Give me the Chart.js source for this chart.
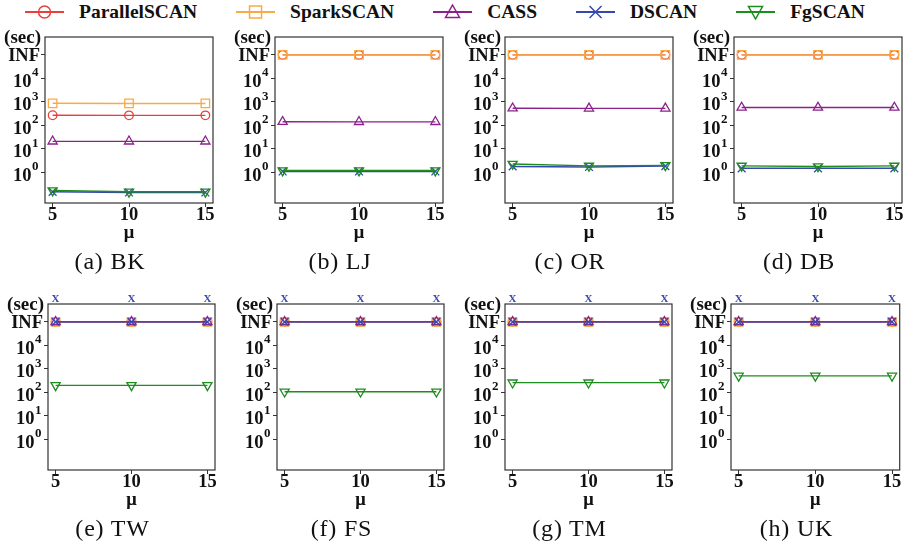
<!DOCTYPE html>
<html>
<head>
<meta charset="utf-8">
<script src="https://cdn.jsdelivr.net/npm/chart.js@4.4.1/dist/chart.umd.min.js"></script>
<style>
  body { margin: 0; background: #fff; }
  #fig { position: relative; width: 905px; height: 555px; overflow: hidden; }
  #fig canvas { position: absolute; }
  .cap { position: absolute; font-family: "Liberation Serif", serif; font-size: 24px; line-height: 24px;
         letter-spacing: 0.8px; white-space: nowrap; transform: translateX(-50%); color: #111; }
  #legend { position: absolute; left: 445px; top: 2px; transform: translateX(-50%); display: flex; align-items: center;
            font-family: "Liberation Serif", serif; font-weight: bold; font-size: 19.5px; line-height: 20px;
            color: #111; white-space: nowrap; }
  #legend .item { display: flex; align-items: center; margin-right: 39px; }
  #legend .item:last-child { margin-right: 0; }
  #legend svg { margin-right: 15px; }
</style>
</head>
<body>
<div id="fig">
  <div id="legend"></div>
</div>
<script>
const INF = 1e5;
const muValues = [5, 10, 15];
const graphNames = ['BK', 'LJ', 'OR', 'DB', 'TW', 'FS', 'TM', 'UK'];
const captionLetters = ['a', 'b', 'c', 'd', 'e', 'f', 'g', 'h'];
const methodNames = ['ParallelSCAN', 'SparkSCAN', 'CASS', 'DSCAN', 'FgSCAN'];
const yTickValues = [1, 10, 100, 1000, 10000, INF];

// running time (sec) per graph, INF = did not finish
const parallelScanTime = [
  [270, 268, 268],
  [INF, INF, INF],
  [INF, INF, INF],
  [INF, INF, INF],
  [INF, INF, INF],
  [INF, INF, INF],
  [INF, INF, INF],
  [INF, INF, INF]
];
const sparkScanTime = [
  [870, 860, 860],
  [INF, INF, INF],
  [INF, INF, INF],
  [INF, INF, INF],
  [INF, INF, INF],
  [INF, INF, INF],
  [INF, INF, INF],
  [INF, INF, INF]
];
const cassTime = [
  [21, 21, 21],
  [143, 142, 142],
  [535, 530, 530],
  [575, 575, 575],
  [INF, INF, INF],
  [INF, INF, INF],
  [INF, INF, INF],
  [INF, INF, INF]
];
const dscanTime = [
  [0.15, 0.14, 0.14],
  [1.1, 1.1, 1.1],
  [1.8, 1.7, 1.85],
  [1.5, 1.5, 1.5],
  [INF, INF, INF],
  [INF, INF, INF],
  [INF, INF, INF],
  [INF, INF, INF]
];
const fgScanTime = [
  [0.17, 0.15, 0.15],
  [1.2, 1.2, 1.2],
  [2.3, 1.9, 2.0],
  [1.9, 1.8, 1.9],
  [200, 200, 200],
  [107, 107, 107],
  [260, 260, 260],
  [505, 505, 505]
];
// DSCAN crashed (marked with an X above the plot)
const dscanCrashed = [false, false, false, false, true, true, true, true];

const allTimes = [parallelScanTime, sparkScanTime, cassTime, dscanTime, fgScanTime];

// look of each method
const colors = ['#e8403a', '#f9aa45', '#8b218b', '#3548b0', '#1e8c1e'];
const pointStyles = ['circle', 'rect', 'triangle', 'crossRot', 'triangle'];
const pointRotations = [0, 0, 0, 0, 180];
const pointRadii = [4.3, 6, 5.3, 5.5, 5.3];

// subplot frames
const plotLefts = [45, 275, 505, 734, 48, 277, 505, 731];
const plotTops = [37, 37, 37, 37, 304, 304, 304, 304];
const plotWidths = [168, 168, 168, 168, 167, 167, 167, 169];
const PLOT_H = 166;
const CANVAS_W = 222, CANVAS_H = 245, PAD_LEFT = 46, PAD_TOP = 32;

const SERIF = '"Liberation Serif", "Times New Roman", serif';
const fig = document.getElementById('fig');

const decor = {
  id: 'decor',
  afterDraw(chart, args, opts) {
    const { ctx, chartArea: a, scales: { x, y } } = chart;
    ctx.save();
    ctx.strokeStyle = '#333';
    ctx.lineWidth = 1.2;
    ctx.strokeRect(a.left, a.top, a.right - a.left, a.bottom - a.top);

    ctx.fillStyle = '#111';
    ctx.textAlign = 'right';
    ctx.textBaseline = 'alphabetic';
    y.ticks.forEach(t => {
      const py = y.getPixelForValue(t.value);
      if (t.value === INF) {
        ctx.font = 'bold 18.5px ' + SERIF;
        ctx.fillText('INF', a.left - 5, py + 6.5);
      } else {
        const exp = String(Math.round(Math.log10(t.value)));
        ctx.font = 'bold 13px ' + SERIF;
        const w = ctx.measureText(exp).width;
        ctx.fillText(exp, a.left - 6.5, py - 2);
        ctx.font = 'bold 18.5px ' + SERIF;
        ctx.fillText('10', a.left - 7 - w, py + 8.5);
      }
    });
    ctx.font = 'bold 19px ' + SERIF;
    ctx.fillText('(sec)', a.left - 4, a.top + 6);

    ctx.font = 'bold 18.5px ' + SERIF;
    ctx.textAlign = 'center';
    x.ticks.forEach(t => {
      ctx.fillText(String(t.value), x.getPixelForValue(t.value), a.bottom + 17);
    });
    ctx.fillText('\u03bc', (a.left + a.right) / 2, a.bottom + 35);

    if (opts.crashed) {
      ctx.fillStyle = colors[3];
      ctx.font = 'bold 11px ' + SERIF;
      muValues.forEach(m => ctx.fillText('X', x.getPixelForValue(m), a.top - 2.5));
    }
    ctx.restore();
  }
};

graphNames.forEach((g, p) => {
  const canvas = document.createElement('canvas');
  canvas.width = CANVAS_W;
  canvas.height = CANVAS_H;
  canvas.style.left = (plotLefts[p] - PAD_LEFT) + 'px';
  canvas.style.top = (plotTops[p] - PAD_TOP) + 'px';
  fig.appendChild(canvas);

  const datasets = methodNames.map((name, i) => ({
    label: name,
    data: allTimes[i][p].map((v, k) => ({ x: muValues[k], y: v })),
    borderColor: colors[i],
    backgroundColor: 'transparent',
    borderWidth: 1.4,
    pointStyle: pointStyles[i],
    pointRotation: pointRotations[i],
    pointRadius: pointRadii[i],
    pointBorderWidth: 1.3,
    pointBackgroundColor: 'transparent',
    pointBorderColor: colors[i],
    tension: 0,
    order: methodNames.length - i
  }));

  new Chart(canvas, {
    type: 'line',
    data: { datasets },
    plugins: [decor],
    options: {
      responsive: false,
      animation: false,
      devicePixelRatio: 1,
      layout: { padding: { left: 0, top: PAD_TOP, bottom: 0, right: CANVAS_W - PAD_LEFT - plotWidths[p] } },
      plugins: {
        legend: { display: false },
        tooltip: { enabled: false },
        decor: { crashed: dscanCrashed[p] }
      },
      scales: {
        x: {
          type: 'linear',
          min: 4.5,
          max: 15.5,
          afterBuildTicks: s => { s.ticks = muValues.map(v => ({ value: v })); },
          afterFit: s => { s.height = CANVAS_H - PAD_TOP - PLOT_H; },
          ticks: { display: false },
          grid: { display: true, drawOnChartArea: false, drawTicks: true, tickLength: 4, color: '#333' },
          border: { display: false }
        },
        y: {
          type: 'logarithmic',
          min: Math.pow(10, -1.3),
          max: Math.pow(10, 5.76),
          afterBuildTicks: s => { s.ticks = yTickValues.map(v => ({ value: v })); },
          afterFit: s => { s.width = PAD_LEFT; },
          ticks: { display: false },
          grid: { display: true, drawOnChartArea: false, drawTicks: true, tickLength: 4, color: '#333' },
          border: { display: false }
        }
      }
    }
  });

  const cap = document.createElement('div');
  cap.className = 'cap';
  cap.textContent = '(' + captionLetters[p] + ') ' + g;
  cap.style.left = (plotLefts[p] + plotWidths[p] / 2 - 19) + 'px';
  cap.style.top = (plotTops[p] + PLOT_H + 46) + 'px';
  fig.appendChild(cap);
});

// shared legend across the top
const legend = document.getElementById('legend');
const markerSvg = {
  circle: c => `<circle cx="19.5" cy="10" r="6" fill="none" stroke="${c}" stroke-width="1.5"/>`,
  rect: c => `<rect x="13.5" y="4" width="12" height="12" fill="none" stroke="${c}" stroke-width="1.5"/>`,
  triangle: c => `<polygon points="19.5,3 26.5,15.5 12.5,15.5" fill="none" stroke="${c}" stroke-width="1.5"/>`,
  crossRot: c => `<path d="M13.5 4 L25.5 16 M25.5 4 L13.5 16" stroke="${c}" stroke-width="1.5"/>`,
  triangleDown: c => `<polygon points="12.5,4.5 26.5,4.5 19.5,17" fill="none" stroke="${c}" stroke-width="1.5"/>`
};
const legendShapes = ['circle', 'rect', 'triangle', 'crossRot', 'triangleDown'];
methodNames.forEach((name, i) => {
  const item = document.createElement('div');
  item.className = 'item';
  item.innerHTML = `<svg width="39" height="20"><line x1="0" y1="10" x2="39" y2="10" stroke="${colors[i]}" stroke-width="2"/>` +
    markerSvg[legendShapes[i]](colors[i]) + `</svg><span>${name}</span>`;
  legend.appendChild(item);
});
</script>
</body>
</html>
